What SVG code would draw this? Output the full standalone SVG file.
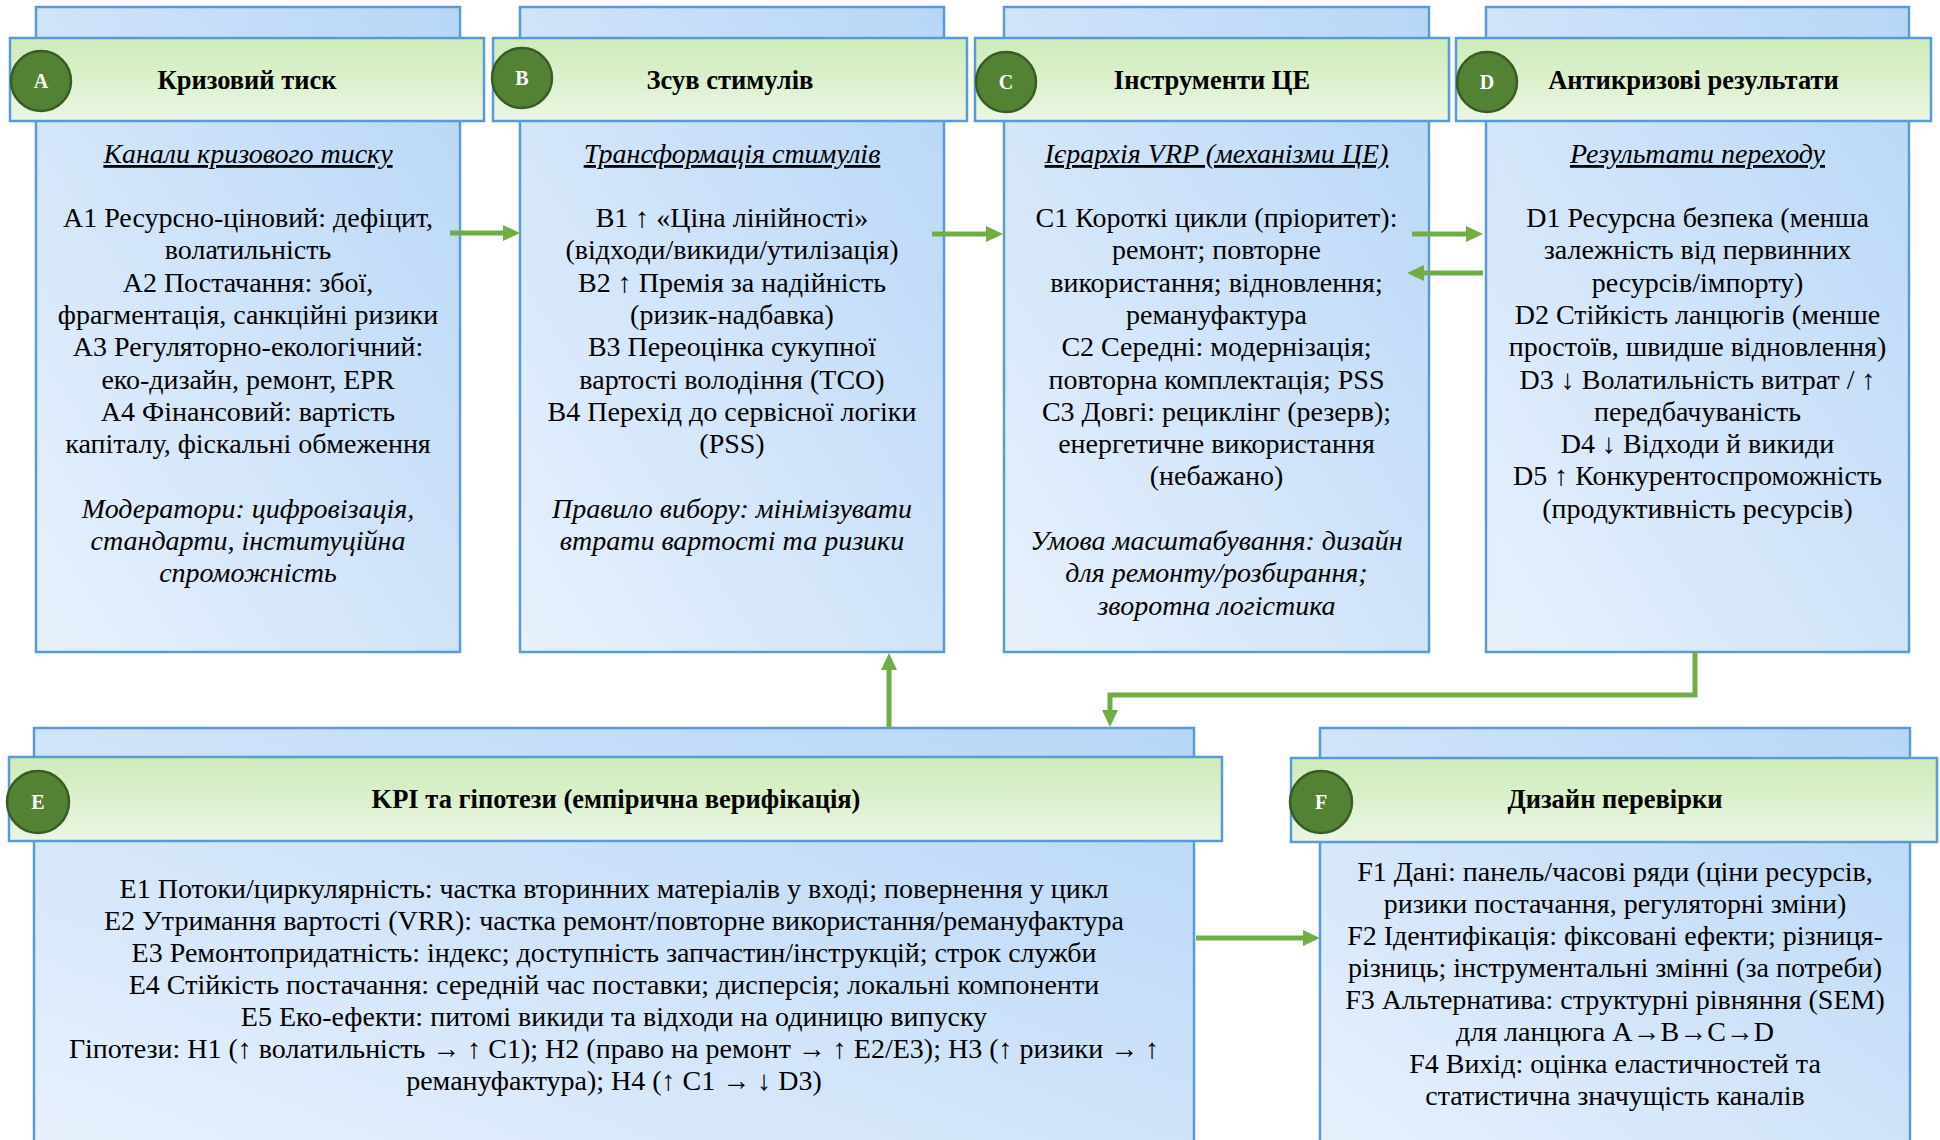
<svg xmlns="http://www.w3.org/2000/svg" width="1940" height="1140" viewBox="0 0 1940 1140">
  <defs>
    <linearGradient id="bodyFill" x1="0" y1="1" x2="1" y2="0">
      <stop offset="0" stop-color="#E8F1FD"/>
      <stop offset="1" stop-color="#B7D6F6"/>
    </linearGradient>
    <linearGradient id="headFill" x1="0" y1="0" x2="0" y2="1">
      <stop offset="0" stop-color="#CDEBB8"/>
      <stop offset="1" stop-color="#EBF6E3"/>
    </linearGradient>
    <marker id="ah" markerUnits="userSpaceOnUse" markerWidth="17" markerHeight="16" viewBox="0 0 17 16" refX="5" refY="8" orient="auto">
      <path d="M0,0 L17,8 L0,16 z" fill="#70AD47"/>
    </marker>
    <style>
      .body { fill: url(#bodyFill); stroke: #5B9BD5; stroke-width: 2.5; }
      .head { fill: url(#headFill); stroke: #5B9BD5; stroke-width: 2.5; }
      .badge { fill: #548235; stroke: #3A5C24; stroke-width: 2.5; }
      .badge-t { font-family: "Liberation Serif", serif; font-weight: bold; font-size: 20px; fill: #FFFFFF; text-anchor: middle; }
      .title { font-family: "Liberation Serif", serif; font-weight: bold; font-size: 26.5px; fill: #000; text-anchor: middle; }
      .sub { font-family: "Liberation Serif", serif; font-style: italic; font-size: 28px; fill: #000; text-anchor: middle; text-decoration: underline; }
      .txt { font-family: "Liberation Serif", serif; font-size: 28px; fill: #000; text-anchor: middle; }
      .it { font-family: "Liberation Serif", serif; font-style: italic; font-size: 28px; fill: #000; text-anchor: middle; }
      .link { fill: none; stroke: #70AD47; stroke-width: 5; marker-end: url(#ah); }
    </style>
  </defs>

  <rect width="1940" height="1140" fill="#FFFFFF"/>

  <!-- A: crisis pressure -->
  <g id="node-a">
    <rect class="body" x="36" y="7" width="424" height="645"/>
    <rect class="head" x="10" y="38" width="474" height="83"/>
    <circle class="badge" cx="41" cy="81" r="30"/>
    <text class="badge-t" x="41" y="88">A</text>
    <text class="title" x="247" y="89">Кризовий тиск</text>
    <text class="sub" x="248" y="163">Канали кризового тиску</text>
    <text class="txt" x="248" y="227">A1 Ресурсно-ціновий: дефіцит,</text>
    <text class="txt" x="248" y="259.3">волатильність</text>
    <text class="txt" x="248" y="291.6">A2 Постачання: збої,</text>
    <text class="txt" x="248" y="323.9">фрагментація, санкційні ризики</text>
    <text class="txt" x="248" y="356.2">A3 Регуляторно-екологічний:</text>
    <text class="txt" x="248" y="388.5">еко-дизайн, ремонт, EPR</text>
    <text class="txt" x="248" y="420.8">A4 Фінансовий: вартість</text>
    <text class="txt" x="248" y="453.1">капіталу, фіскальні обмеження</text>
    <text class="it" x="248" y="517.7">Модератори: цифровізація,</text>
    <text class="it" x="248" y="550">стандарти, інституційна</text>
    <text class="it" x="248" y="582.3">спроможність</text>
  </g>

  <!-- B: incentive shift -->
  <g id="node-b">
    <rect class="body" x="520" y="7" width="424" height="645"/>
    <rect class="head" x="493" y="38" width="474" height="83"/>
    <circle class="badge" cx="522" cy="78" r="30"/>
    <text class="badge-t" x="522" y="85">B</text>
    <text class="title" x="730" y="89">Зсув стимулів</text>
    <text class="sub" x="732" y="163">Трансформація стимулів</text>
    <text class="txt" x="732" y="227">B1 ↑ «Ціна лінійності»</text>
    <text class="txt" x="732" y="259.3">(відходи/викиди/утилізація)</text>
    <text class="txt" x="732" y="291.6">B2 ↑ Премія за надійність</text>
    <text class="txt" x="732" y="323.9">(ризик-надбавка)</text>
    <text class="txt" x="732" y="356.2">B3 Переоцінка сукупної</text>
    <text class="txt" x="732" y="388.5">вартості володіння (TCO)</text>
    <text class="txt" x="732" y="420.8">B4 Перехід до сервісної логіки</text>
    <text class="txt" x="732" y="453.1">(PSS)</text>
    <text class="it" x="732" y="517.7">Правило вибору: мінімізувати</text>
    <text class="it" x="732" y="550">втрати вартості та ризики</text>
  </g>

  <!-- C: circular economy instruments -->
  <g id="node-c">
    <rect class="body" x="1004" y="7" width="425" height="645"/>
    <rect class="head" x="975" y="38" width="474" height="83"/>
    <circle class="badge" cx="1006" cy="82" r="30"/>
    <text class="badge-t" x="1006" y="89">C</text>
    <text class="title" x="1212" y="89">Інструменти ЦЕ</text>
    <text class="sub" x="1216.5" y="163">Ієрархія VRP (механізми ЦЕ)</text>
    <text class="txt" x="1216.5" y="227">C1 Короткі цикли (пріоритет):</text>
    <text class="txt" x="1216.5" y="259.3">ремонт; повторне</text>
    <text class="txt" x="1216.5" y="291.6">використання; відновлення;</text>
    <text class="txt" x="1216.5" y="323.9">ремануфактура</text>
    <text class="txt" x="1216.5" y="356.2">C2 Середні: модернізація;</text>
    <text class="txt" x="1216.5" y="388.5">повторна комплектація; PSS</text>
    <text class="txt" x="1216.5" y="420.8">C3 Довгі: рециклінг (резерв);</text>
    <text class="txt" x="1216.5" y="453.1">енергетичне використання</text>
    <text class="txt" x="1216.5" y="485.4">(небажано)</text>
    <text class="it" x="1216.5" y="550">Умова масштабування: дизайн</text>
    <text class="it" x="1216.5" y="582.3">для ремонту/розбирання;</text>
    <text class="it" x="1216.5" y="614.6">зворотна логістика</text>
  </g>

  <!-- D: anti-crisis outcomes -->
  <g id="node-d">
    <rect class="body" x="1486" y="7" width="423" height="645"/>
    <rect class="head" x="1456" y="38" width="475" height="83"/>
    <circle class="badge" cx="1487" cy="82" r="30"/>
    <text class="badge-t" x="1487" y="89">D</text>
    <text class="title" x="1693.5" y="89">Антикризові результати</text>
    <text class="sub" x="1697.5" y="163">Результати переходу</text>
    <text class="txt" x="1697.5" y="227">D1 Ресурсна безпека (менша</text>
    <text class="txt" x="1697.5" y="259.3">залежність від первинних</text>
    <text class="txt" x="1697.5" y="291.6">ресурсів/імпорту)</text>
    <text class="txt" x="1697.5" y="323.9">D2 Стійкість ланцюгів (менше</text>
    <text class="txt" x="1697.5" y="356.2">простоїв, швидше відновлення)</text>
    <text class="txt" x="1697.5" y="388.5">D3 ↓ Волатильність витрат / ↑</text>
    <text class="txt" x="1697.5" y="420.8">передбачуваність</text>
    <text class="txt" x="1697.5" y="453.1">D4 ↓ Відходи й викиди</text>
    <text class="txt" x="1697.5" y="485.4">D5 ↑ Конкурентоспроможність</text>
    <text class="txt" x="1697.5" y="517.7">(продуктивність ресурсів)</text>
  </g>

  <!-- E: KPIs and hypotheses -->
  <g id="node-e">
    <rect class="body" x="34" y="728" width="1160" height="430"/>
    <rect class="head" x="9" y="757" width="1213" height="84"/>
    <circle class="badge" cx="38" cy="802" r="31"/>
    <text class="badge-t" x="38" y="809">E</text>
    <text class="title" x="616" y="808">KPI та гіпотези (емпірична верифікація)</text>
    <text class="txt" x="614" y="898">E1 Потоки/циркулярність: частка вторинних матеріалів у вході; повернення у цикл</text>
    <text class="txt" x="614" y="930">E2 Утримання вартості (VRR): частка ремонт/повторне використання/ремануфактура</text>
    <text class="txt" x="614" y="962">E3 Ремонтопридатність: індекс; доступність запчастин/інструкцій; строк служби</text>
    <text class="txt" x="614" y="994">E4 Стійкість постачання: середній час поставки; дисперсія; локальні компоненти</text>
    <text class="txt" x="614" y="1026">E5 Еко-ефекти: питомі викиди та відходи на одиницю випуску</text>
    <text class="txt" x="614" y="1058">Гіпотези: H1 (↑ волатильність → ↑ C1); H2 (право на ремонт → ↑ E2/E3); H3 (↑ ризики → ↑</text>
    <text class="txt" x="614" y="1090">ремануфактура); H4 (↑ C1 → ↓ D3)</text>
  </g>

  <!-- F: verification design -->
  <g id="node-f">
    <rect class="body" x="1320" y="728" width="590" height="430"/>
    <rect class="head" x="1291" y="758" width="646" height="84"/>
    <circle class="badge" cx="1321" cy="802" r="31"/>
    <text class="badge-t" x="1321" y="809">F</text>
    <text class="title" x="1615" y="808">Дизайн перевірки</text>
    <text class="txt" x="1615" y="881">F1 Дані: панель/часові ряди (ціни ресурсів,</text>
    <text class="txt" x="1615" y="913">ризики постачання, регуляторні зміни)</text>
    <text class="txt" x="1615" y="945">F2 Ідентифікація: фіксовані ефекти; різниця-</text>
    <text class="txt" x="1615" y="977">різниць; інструментальні змінні (за потреби)</text>
    <text class="txt" x="1615" y="1009">F3 Альтернатива: структурні рівняння (SEM)</text>
    <text class="txt" x="1615" y="1041">для ланцюга A→B→C→D</text>
    <text class="txt" x="1615" y="1073">F4 Вихід: оцінка еластичностей та</text>
    <text class="txt" x="1615" y="1105">статистична значущість каналів</text>
  </g>

  <!-- connectors -->
  <g id="connectors">
    <line class="link" x1="450" y1="233" x2="508" y2="233"/>
    <line class="link" x1="932" y1="234" x2="991" y2="234"/>
    <line class="link" x1="1412" y1="234" x2="1471" y2="234"/>
    <line class="link" x1="1483" y1="273" x2="1419" y2="273"/>
    <line class="link" x1="889" y1="728" x2="889" y2="665"/>
    <polyline class="link" points="1695,652 1695,695 1110,695 1110,715"/>
    <line class="link" x1="1196" y1="938" x2="1308" y2="938"/>
  </g>
</svg>
